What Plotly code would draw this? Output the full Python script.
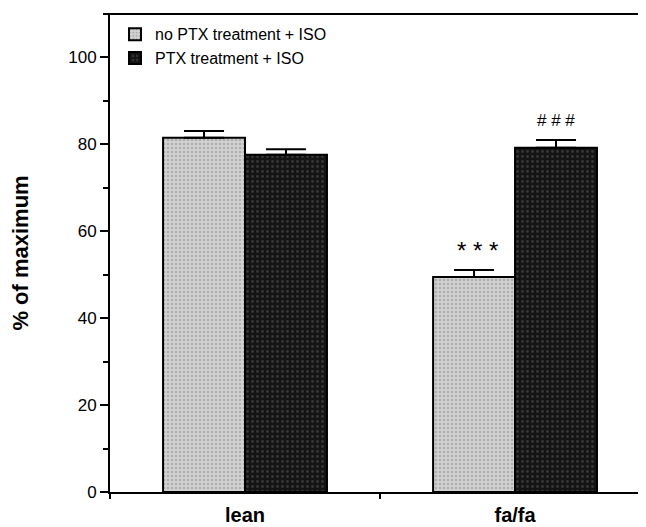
import plotly.graph_objects as go

categories = ["lean", "fa/fa"]
series_names = ["no PTX treatment + ISO", "PTX treatment + ISO"]
no_ptx_values = [81.5, 49.5]
no_ptx_errors = [1.6, 1.6]
ptx_values = [77.6, 79.2]
ptx_errors = [1.3, 1.8]
y_ticks = [0, 20, 40, 60, 80, 100]
sig_labels = ["* * *", "# # #"]
sig_y = [55.5, 85.6]

FONT = "Liberation Sans, Arial, Helvetica, sans-serif"

fig = go.Figure()
fig.add_trace(go.Bar(
    x=categories, y=no_ptx_values, name=series_names[0],
    marker=dict(color="#c4c4c4", line=dict(color="black", width=2),
                pattern=dict(shape=".", bgcolor="#d2d2d2", fgcolor="#8a8a8a",
                             size=4, solidity=0.35, fillmode="overlay")),
    error_y=dict(type="data", array=no_ptx_errors, arrayminus=[0, 0],
                 symmetric=False, color="black", thickness=2, width=20),
))
fig.add_trace(go.Bar(
    x=categories, y=ptx_values, name=series_names[1],
    marker=dict(color="#161616", line=dict(color="black", width=2),
                pattern=dict(shape=".", bgcolor="#141414", fgcolor="#5a5a5a",
                             size=5, solidity=0.25, fillmode="overlay")),
    error_y=dict(type="data", array=ptx_errors, arrayminus=[0, 0],
                 symmetric=False, color="black", thickness=2, width=20),
))

# significance markers above the fa/fa bars
fig.add_annotation(x=categories[1], y=sig_y[0], xref="x", yref="y",
                   text=sig_labels[0], showarrow=False, xshift=-38,
                   font=dict(family=FONT, size=24, color="black"))
fig.add_annotation(x=categories[1], y=sig_y[1], xref="x", yref="y",
                   text=sig_labels[1], showarrow=False, xshift=41,
                   font=dict(family=FONT, size=17, color="black"))

# top frame line
fig.add_shape(type="line", xref="paper", yref="paper", x0=-0.01, x1=1.0,
              y0=1, y1=1, line=dict(color="black", width=2))

# the page body keeps its default 8px margin, so the figure is sized to
# fill the remaining 638x519 area
fig.update_layout(
    width=638, height=519,
    margin=dict(l=102, r=0, t=6, b=35, autoexpand=False),
    paper_bgcolor="white", plot_bgcolor="white",
    barmode="group", bargap=0.393, bargroupgap=0,
    font=dict(family=FONT, color="black"),
    showlegend=True,
    legend=dict(x=0.0093, y=0.993, xanchor="left", yanchor="top",
                font=dict(family=FONT, size=16, color="black"),
                bgcolor="rgba(0,0,0,0)", tracegroupgap=0,
                traceorder="normal"),
    xaxis=dict(range=[-0.5, 1.485], showline=True, linecolor="black",
               linewidth=2, ticks="outside", tickson="boundaries",
               ticklen=5, tickwidth=1.5, tickcolor="black",
               tickfont=dict(family=FONT, size=20, weight="bold"),
               ticklabelstandoff=4,
               showgrid=False, zeroline=False, automargin=False),
    yaxis=dict(range=[0, 110], showline=True, linecolor="black",
               linewidth=2, ticks="outside", ticklen=8, tickwidth=1.5,
               tickcolor="black", tickvals=y_ticks,
               tickfont=dict(family=FONT, size=17),
               minor=dict(ticks="outside", ticklen=5, dtick=10,
                          tickwidth=1.5, tickcolor="black", showgrid=False),
               showgrid=False, zeroline=False, automargin=False,
               title=dict(text="% of maximum", standoff=38,
                          font=dict(family=FONT, size=22, weight="bold"))),
)

fig.write_html("out.html")
